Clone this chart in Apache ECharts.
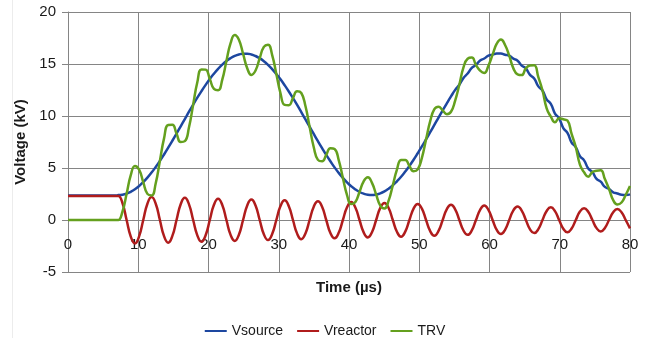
<!DOCTYPE html>
<html>
<head>
<meta charset="utf-8">
<script src="https://cdn.jsdelivr.net/npm/echarts@6/dist/echarts.min.js"></script>
<style>
html,body{margin:0;padding:0;background:#fff;}
#chart{width:650px;height:338px;}
</style>
</head>
<body>
<div id="chart"></div>
<script>
// Time samples (µs)
var timeUs = [0, 6.9, 7.16, 7.752, 8.344, 8.936, 9.528, 10.12, 10.712, 11.304,
  11.896, 12.488, 13.08, 13.672, 14.264, 14.856, 15.448, 16.04, 16.632, 17.224,
  17.816, 18.408, 19.0, 19.592, 20.184, 20.776, 21.368, 21.96, 22.552, 23.144,
  23.736, 24.328, 24.92, 25.512, 26.104, 26.696, 27.288, 27.88, 28.472, 29.064,
  29.656, 30.248, 30.84, 31.432, 32.024, 32.616, 33.208, 33.8, 34.392, 34.984,
  35.576, 36.168, 36.76, 37.352, 37.944, 38.536, 39.128, 39.72, 40.312, 40.904,
  41.496, 42.088, 42.68, 43.272, 43.864, 44.456, 45.048, 45.64, 46.232, 46.824,
  47.416, 48.008, 48.6, 49.192, 49.784, 50.376, 50.968, 51.56, 52.152, 52.744,
  53.336, 53.928, 54.52, 55.112, 55.704, 56.296, 56.888, 57.48, 58.072, 58.664,
  59.256, 59.848, 60.44, 61.032, 61.624, 62.216, 62.808, 63.4, 63.992, 64.584,
  65.176, 65.768, 66.36, 66.952, 67.544, 68.136, 68.728, 69.32, 69.912, 70.504,
  71.096, 71.688, 72.28, 72.872, 73.464, 74.056, 74.648, 75.24, 75.832, 76.424,
  77.016, 77.608, 78.2, 78.792, 79.384, 80];
// Vsource (kV)
var vsource = [2.35, 2.35, 2.4, 2.43, 2.53, 2.71, 2.95, 3.26, 3.64, 4.07,
  4.56, 5.10, 5.68, 6.30, 6.95, 7.62, 8.31, 9.01, 9.71, 10.41,
  11.09, 11.76, 12.39, 12.99, 13.56, 14.07, 14.53, 14.94, 15.29, 15.57,
  15.78, 15.92, 15.99, 15.99, 15.92, 15.77, 15.55, 15.27, 14.92, 14.51,
  14.04, 13.53, 12.96, 12.36, 11.72, 11.06, 10.37, 9.67, 8.97, 8.27,
  7.58, 6.91, 6.26, 5.65, 5.06, 4.53, 4.05, 3.62, 3.25, 2.94,
  2.70, 2.53, 2.43, 2.40, 2.45, 2.56, 2.75, 3.01, 3.33, 3.72,
  4.16, 4.66, 5.20, 5.79, 6.42, 7.07, 7.75, 8.44, 9.14, 9.85,
  10.54, 11.22, 11.88, 12.51, 13.01, 13.66, 14.08, 14.62, 14.91, 15.34,
  15.53, 15.81, 15.90, 16.00, 16.00, 15.89, 15.80, 15.51, 15.32, 14.85,
  14.58, 13.95, 13.61, 12.85, 12.45, 11.60, 11.16, 10.24, 9.78, 8.84,
  8.38, 7.45, 7.01, 6.14, 5.73, 4.96, 4.61, 3.96, 3.68, 3.18,
  2.98, 2.66, 2.55, 2.42, 2.40, 2.47];
// Vreactor (kV)
var vreactor = [2.3, 2.3, 2.3, 1.63, 0, -1.60, -2.25, -1.58, 0, 1.56,
  2.2, 1.56, 0, -1.55, -2.18, -1.53, 0, 1.51, 2.13, 1.50,
  0, -1.48, -2.09, -1.47, 0, 1.46, 2.05, 1.44, 0, -1.43,
  -2.01, -1.41, 0, 1.40, 1.97, 1.39, 0, -1.37, -1.93, -1.35,
  0, 1.34, 1.89, 1.32, 0, -1.31, -1.84, -1.29, 0, 1.28,
  1.80, 1.27, 0, -1.25, -1.76, -1.23, 0, 1.22, 1.72, 1.21,
  0, -1.19, -1.68, -1.17, 0, 1.17, 1.64, 1.15, 0, -1.13,
  -1.60, -1.12, 0, 1.10, 1.55, 1.09, 0, -1.07, -1.51, -1.05,
  0, 1.04, 1.47, 1.03, 0, -1.01, -1.43, -1.00, 0, 0.98,
  1.39, 0.97, 0, -0.95, -1.35, -0.94, 0, 0.93, 1.31, 0.91,
  0, -0.90, -1.26, -0.88, 0, 0.87, 1.22, 0.85, 0, -0.84,
  -1.18, -0.82, 0, 0.81, 1.14, 0.79, 0, -0.78, -1.10, -0.76,
  0, 0.75, 1.06, 0.74, 0, -0.8];
// TRV (kV)
var trv = [0, 0, 0, 0.80, 2.53, 4.31, 5.20, 4.84, 3.64, 2.51,
  2.36, 3.54, 5.68, 7.85, 9.13, 9.15, 8.31, 7.50, 7.58, 8.91,
  11.09, 13.24, 14.48, 14.46, 13.56, 12.61, 12.48, 13.50, 15.29, 17.00,
  17.79, 17.33, 15.99, 14.59, 13.95, 14.38, 15.55, 16.64, 16.85, 15.86,
  14.04, 12.19, 11.07, 11.04, 11.72, 12.37, 12.21, 10.96, 8.97, 6.99,
  5.78, 5.64, 6.26, 6.90, 6.82, 5.76, 4.05, 2.40, 1.53, 1.73,
  2.70, 3.72, 4.11, 3.57, 2.45, 1.39, 1.11, 1.86, 3.33, 4.85,
  5.76, 5.78, 5.20, 4.69, 4.87, 5.98, 7.75, 9.51, 10.65, 10.90,
  10.54, 10.18, 10.41, 11.48, 13.01, 14.67, 15.51, 15.62, 14.91, 14.36,
  14.14, 14.84, 15.90, 16.95, 17.35, 16.83, 15.80, 14.58, 14.01, 13.94,
  14.58, 14.85, 14.87, 13.73, 12.45, 10.73, 9.94, 9.39, 9.78, 9.68,
  9.56, 8.27, 7.01, 5.33, 4.59, 4.17, 4.61, 4.74, 4.78, 3.94,
  2.98, 1.91, 1.49, 1.68, 2.40, 3.27];

var xTicks = [0, 10, 20, 30, 40, 50, 60, 70, 80];
var yTicks = [-5, 0, 5, 10, 15, 20];
var seriesNames = ['Vsource', 'Vreactor', 'TRV'];

function pairs(ys) {
  return timeUs.map(function (t, i) { return [t, ys[i]]; });
}

var colors = ['#1d47a0', '#b01c1c', '#64a01e'];
var fam = '"Liberation Sans", Arial, sans-serif';
var chart = echarts.init(document.getElementById('chart'), null, {renderer: 'canvas'});

chart.setOption({
  backgroundColor: '#ffffff',
  animation: false,
  color: colors,
  graphic: [{
    type: 'line', shape: {x1: 12.5, y1: 0, x2: 12.5, y2: 338},
    style: {stroke: '#ececec', lineWidth: 1}, silent: true
  }],
  grid: {left: 68, right: 20, top: 12, bottom: 66},
  legend: {
    data: seriesNames,
    left: 'center',
    top: 319,
    itemWidth: 22,
    itemHeight: 2,
    itemGap: 14,
    icon: 'rect',
    textStyle: {fontFamily: fam, fontSize: 14, color: '#1a1a1a'}
  },
  xAxis: {
    type: 'value',
    min: xTicks[0], max: xTicks[xTicks.length - 1], interval: 10,
    offset: -52,
    name: 'Time (µs)',
    nameLocation: 'middle',
    nameGap: 60,
    nameTextStyle: {fontFamily: fam, fontSize: 15, fontWeight: 'bold', color: '#1a1a1a'},
    axisLine: {show: true, onZero: false, lineStyle: {color: '#858585', width: 1}},
    axisTick: {show: false},
    axisLabel: {fontFamily: fam, fontSize: 15, color: '#1a1a1a', margin: 17},
    splitLine: {show: true, lineStyle: {color: '#858585', width: 1}}
  },
  yAxis: {
    type: 'value',
    min: yTicks[0], max: yTicks[yTicks.length - 1], interval: 5,
    name: 'Voltage (kV)',
    nameLocation: 'middle',
    nameGap: 36,
    nameTextStyle: {fontFamily: fam, fontSize: 15, fontWeight: 'bold', color: '#1a1a1a'},
    axisLine: {show: true, lineStyle: {color: '#858585', width: 1}},
    axisTick: {show: true, length: 6, lineStyle: {color: '#858585'}},
    axisLabel: {fontFamily: fam, fontSize: 15, color: '#1a1a1a', margin: 12},
    splitLine: {show: true, lineStyle: {color: '#858585', width: 1}}
  },
  series: [
    {name: seriesNames[0], type: 'line', data: pairs(vsource), smooth: 0.5, symbol: 'none', lineStyle: {width: 2.5, color: colors[0]}, z: 2},
    {name: seriesNames[1], type: 'line', data: pairs(vreactor), smooth: 0.5, symbol: 'none', lineStyle: {width: 2.5, color: colors[1]}, z: 3},
    {name: seriesNames[2], type: 'line', data: pairs(trv), smooth: 0.5, symbol: 'none', lineStyle: {width: 2.5, color: colors[2]}, z: 4}
  ]
});
</script>
</body>
</html>
